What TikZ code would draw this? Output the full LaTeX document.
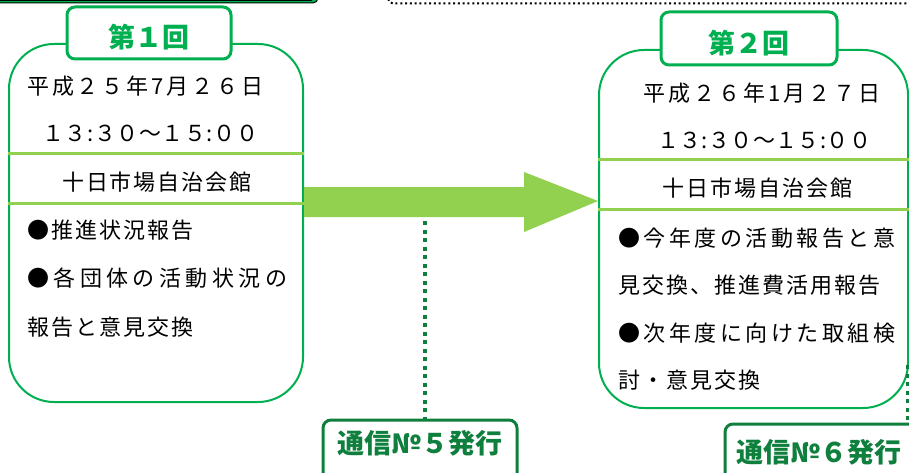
\documentclass[tikz,border=0pt]{standalone}
\usepackage{fontspec}
\setmainfont{Noto Sans CJK JP}
\definecolor{boxgreen}{HTML}{00B050}
\definecolor{lgreen}{HTML}{92D050}
\definecolor{dgreen}{HTML}{0E7F3C}
\makeatletter
\newcommand\sline[2]{\hbox to #1{\let\sl@first\relax\@tfor\sl@c:=#2\do{\sl@first\sl@c\def\sl@first{\hfil}}}}
\makeatother
\begin{document}
\begin{tikzpicture}[x=1pt,y=-1pt,
  mainbox/.style={draw=boxgreen, line width=2pt, rounded corners=45pt, fill=white, inner sep=0pt},
  labelbox/.style={draw=boxgreen, line width=3pt, rounded corners=8pt, fill=white, inner sep=0pt},
  labeltext/.style={text=boxgreen, font=\fontsize{27}{30}\selectfont\bfseries, inner sep=0pt},
  sepline/.style={draw=lgreen, line width=3pt},
  body/.style={anchor=west, inner sep=0pt, font=\fontsize{22}{24}\selectfont},
  dotline/.style={draw=dgreen, line width=4pt, dash pattern=on 4pt off 4.5pt},
  nlbox/.style={draw=dgreen, line width=3pt, rounded corners=8pt, fill=white, inner sep=0pt},
  nltext/.style={text=dgreen, font=\fontsize{27}{30}\selectfont\bfseries, inner sep=0pt}]
\useasboundingbox (0,0) rectangle (909,473);

% fragments of neighbouring parts at the top
\draw[black, fill=boxgreen, line width=1pt, rounded corners=5pt] (-10,-20) rectangle (318,3);
\draw[black, line width=1pt] (-10,0.5) -- (312,0.5);
\draw[black, line width=2pt, dash pattern=on 2pt off 2.8pt, rounded corners=5pt] (388,-30) rectangle (950,3.5);

% main boxes
\node[mainbox, minimum width=294pt, minimum height=358pt] (box1) at (156,223) {};
\node[mainbox, minimum width=309pt, minimum height=358pt] (box2) at (753.5,229) {};

% separator lines
\draw[sepline] (box1.west |- 0,153.5) coordinate (s1a) -- (box1.east |- s1a);
\draw[sepline] (box1.west |- 0,203) coordinate (s1b) -- (box1.east |- s1b);
\draw[sepline] (box2.west |- 0,160) coordinate (s2a) -- (box2.east |- s2a);
\draw[sepline] (box2.west |- 0,209) coordinate (s2b) -- (box2.east |- s2b);

% labels
\node[labelbox, minimum width=164pt, minimum height=52pt] (lab1) at (149,33) {};
\node[labeltext] (lab1t) at (149,37) {第１回};
\node[labelbox, minimum width=176pt, minimum height=53pt] (lab2) at (749,38.5) {};
\node[labeltext] (lab2t) at (749,43) {第２回};

% box 1 text
\node[body] (a1) at (27,86) {\sline{236pt}{平成２５年7月２６日}};
\node[body] (a2) at (42,133) {\sline{216pt}{１３:３０～１５:００}};
\node[body] (a3) at (62,182) {\sline{189pt}{十日市場自治会館}};
\node[body] (a4) at (27,230) {\sline{166pt}{●推進状況報告}};
\node[body] (a5) at (27,278) {\sline{260pt}{●各団体の活動状況の}};
\node[body] (a6) at (27,327) {\sline{166pt}{報告と意見交換}};

% box 2 text
\node[body] (c1) at (643,93) {\sline{237pt}{平成２６年1月２７日}};
\node[body] (c2) at (657,140) {\sline{214pt}{１３:３０～１５:００}};
\node[body] (c3) at (662,188) {\sline{190pt}{十日市場自治会館}};
\node[body] (c4) at (618,238) {\sline{277pt}{●今年度の活動報告と意}};
\node[body] (c5) at (618,285) {\sline{262pt}{見交換、推進費活用報告}};
\node[body] (c6) at (618,333) {\sline{277pt}{●次年度に向けた取組検}};
\node[body] (c7) at (618,380) {\sline{142pt}{討・意見交換}};

% big arrow from box 1 to box 2
\fill[lgreen] (box1.east |- 0,187) -- (524,187) -- (524,172) -- (box2.west |- 0,201)
  -- (524,232) -- (524,217) -- (box1.east |- 0,217) -- cycle;

% newsletter boxes
\node[nlbox, minimum width=194pt, minimum height=70pt] (nl5) at (420,455) {};
\node[nltext] (nl5t) at (420,443) {通信№５発行};
\node[nlbox, minimum width=210pt, minimum height=70pt] (nl6) at (830,459) {};
\node[nltext] (nl6t) at (819,452) {通信№６発行};

% dotted connectors
\coordinate (d5) at (425,221);
\draw[dotline] (d5) -- (d5 |- nl5.north);
\coordinate (d6) at (908,365);
\draw[dotline] (d6) -- (d6 |- nl6.north);
\end{tikzpicture}
\end{document}
